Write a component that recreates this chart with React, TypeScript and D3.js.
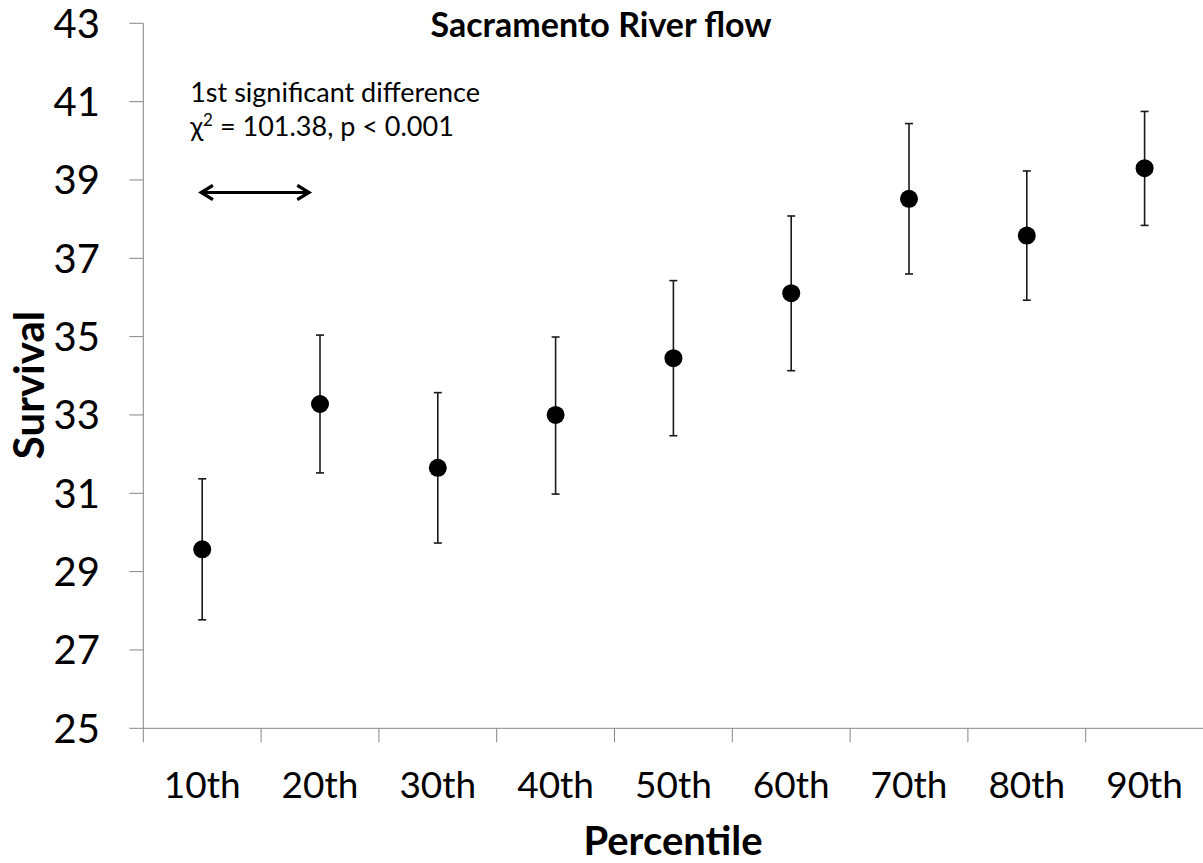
import { useEffect, useRef } from "react";
import * as d3 from "d3";

const percentiles = ["10th", "20th", "30th", "40th", "50th", "60th", "70th", "80th", "90th"];
const survival = [29.57, 33.28, 31.65, 33.0, 34.45, 36.11, 38.52, 37.58, 39.3];
const errLow = [27.77, 31.52, 29.73, 30.98, 32.47, 34.13, 36.6, 35.93, 37.84];
const errHigh = [31.37, 35.04, 33.57, 34.99, 36.43, 38.08, 40.44, 39.23, 40.75];
const yTicks = [25, 27, 29, 31, 33, 35, 37, 39, 41, 43];

const W = 1203;
const H = 863;
const FONT = "Lato, 'Open Sans', sans-serif";

export default function App() {
  const svgRef = useRef<SVGSVGElement>(null);

  useEffect(() => {
    if (!svgRef.current) return;
    const svg = d3.select(svgRef.current);
    svg.selectAll("*").remove();

    const x = d3.scaleBand<string>().domain(percentiles).range([143.3, 1203.5]).padding(0);
    const y = d3.scaleLinear().domain([25, 43]).range([728.3, 23.3]);
    const cx = (c: string) => (x(c) ?? 0) + x.bandwidth() / 2;
    const axisColor = "#868686";

    // arrow head
    const defs = svg.append("defs");
    defs
      .append("marker")
      .attr("id", "chev")
      .attr("viewBox", "0 0 10 10")
      .attr("refX", 8)
      .attr("refY", 5)
      .attr("markerWidth", 6)
      .attr("markerHeight", 6)
      .attr("orient", "auto-start-reverse")
      .append("path")
      .attr("d", "M1.5,1 L8,5 L1.5,9")
      .attr("fill", "none")
      .attr("stroke", "#000")
      .attr("stroke-width", 1.8);

    // y axis
    const yAxis = svg.append("g");
    yAxis
      .append("line")
      .attr("x1", 143.3)
      .attr("x2", 143.3)
      .attr("y1", y(43))
      .attr("y2", y(25))
      .attr("stroke", axisColor);
    yTicks.forEach((t) => {
      yAxis
        .append("line")
        .attr("x1", 129.3)
        .attr("x2", 143.3)
        .attr("y1", y(t))
        .attr("y2", y(t))
        .attr("stroke", axisColor);
      yAxis
        .append("text")
        .attr("x", 100)
        .attr("y", y(t))
        .attr("dy", "0.36em")
        .attr("text-anchor", "end")
        .attr("font-family", FONT)
        .attr("font-size", 40)
        .attr("fill", "#000")
        .text(t);
    });

    // x axis
    const xAxis = svg.append("g");
    xAxis
      .append("line")
      .attr("x1", 143.3)
      .attr("x2", W)
      .attr("y1", y(25))
      .attr("y2", y(25))
      .attr("stroke", axisColor);
    percentiles.forEach((c) => {
      const bx = x(c) ?? 0;
      xAxis
        .append("line")
        .attr("x1", bx)
        .attr("x2", bx)
        .attr("y1", y(25))
        .attr("y2", y(25) + 14)
        .attr("stroke", axisColor);
      xAxis
        .append("text")
        .attr("x", cx(c))
        .attr("y", 798)
        .attr("text-anchor", "middle")
        .attr("font-family", FONT)
        .attr("font-size", 37)
        .attr("fill", "#000")
        .text(c);
    });

    // error bars
    const bars = svg.append("g").attr("stroke", "#1a1a1a").attr("stroke-width", 1.6);
    percentiles.forEach((c, i) => {
      const px = cx(c);
      bars.append("line").attr("x1", px).attr("x2", px).attr("y1", y(errLow[i])).attr("y2", y(errHigh[i]));
      bars.append("line").attr("x1", px - 4).attr("x2", px + 4).attr("y1", y(errLow[i])).attr("y2", y(errLow[i]));
      bars.append("line").attr("x1", px - 4).attr("x2", px + 4).attr("y1", y(errHigh[i])).attr("y2", y(errHigh[i]));
    });

    // points
    svg
      .append("g")
      .selectAll("circle")
      .data(survival)
      .join("circle")
      .attr("cx", (_, i) => cx(percentiles[i]))
      .attr("cy", (d) => y(d))
      .attr("r", 9)
      .attr("fill", "#000");

    // title
    svg
      .append("text")
      .attr("x", 601)
      .attr("y", 37)
      .attr("text-anchor", "middle")
      .attr("font-family", FONT)
      .attr("font-weight", "bold")
      .attr("font-size", 34)
      .attr("fill", "#000")
      .text("Sacramento River flow");

    // axis titles
    svg
      .append("text")
      .attr("x", 673)
      .attr("y", 855)
      .attr("text-anchor", "middle")
      .attr("font-family", FONT)
      .attr("font-weight", "bold")
      .attr("font-size", 40)
      .attr("fill", "#000")
      .text("Percentile");
    svg
      .append("text")
      .attr("transform", "translate(44,385) rotate(-90)")
      .attr("text-anchor", "middle")
      .attr("font-family", FONT)
      .attr("font-weight", "bold")
      .attr("font-size", 42)
      .attr("fill", "#000")
      .text("Survival");

    // annotation
    const ax = cx("10th") - 12;
    svg
      .append("text")
      .attr("x", ax)
      .attr("y", y(41))
      .attr("font-family", FONT)
      .attr("font-size", 27)
      .attr("fill", "#000")
      .text("1st significant difference");
    const t2 = svg
      .append("text")
      .attr("x", ax)
      .attr("y", y(40.11))
      .attr("font-family", FONT)
      .attr("font-size", 27)
      .attr("fill", "#000");
    t2.append("tspan").text("χ");
    t2.append("tspan").attr("dy", -10).attr("font-size", 17).text("2");
    t2.append("tspan").attr("dy", 10).text(" = 101.38, p < 0.001");

    svg
      .append("line")
      .attr("x1", cx("10th") - 1)
      .attr("x2", cx("20th") - 11)
      .attr("y1", y(38.68))
      .attr("y2", y(38.68))
      .attr("stroke", "#000")
      .attr("stroke-width", 3)
      .attr("marker-start", "url(#chev)")
      .attr("marker-end", "url(#chev)");
  }, []);

  return (
    <svg
      ref={svgRef}
      width={W}
      height={H}
      style={{ position: "absolute", left: 0, top: 0, background: "#fff" }}
    />
  );
}
